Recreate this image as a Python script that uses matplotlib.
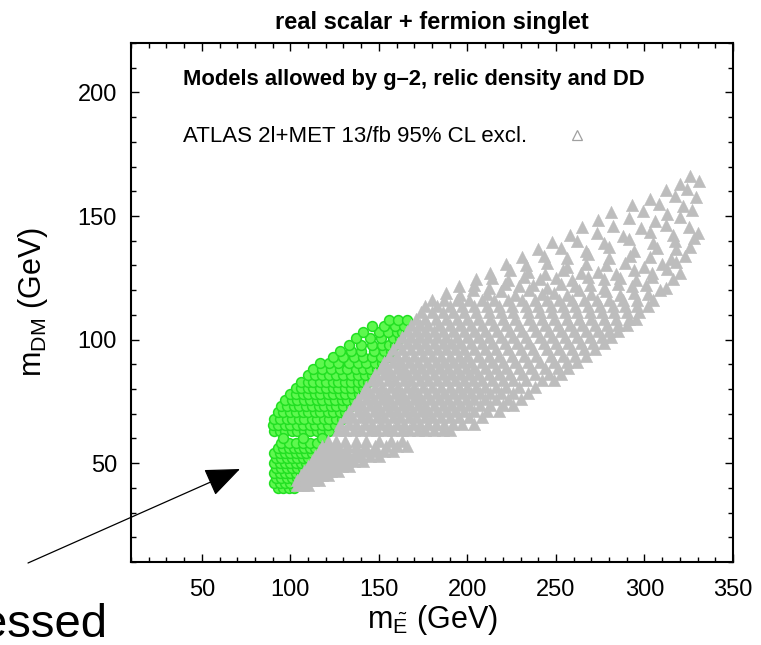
import matplotlib
matplotlib.use("Agg")
import matplotlib.pyplot as plt
from matplotlib.lines import Line2D

plt.rcParams['font.family'] = ['Liberation Sans', 'DejaVu Sans']
plt.rcParams['mathtext.fontset'] = 'custom'
plt.rcParams['mathtext.rm'] = 'Liberation Sans'
plt.rcParams['mathtext.it'] = 'Liberation Sans:italic'

# ---------------- data (m_E~ [GeV], m_DM [GeV]) ----------------
# allowed models (green), upper branch: rows of m_DM with the m_E values in that row
green_upper_mDM = [63, 65.5, 68, 70.5, 73, 75.5, 78, 80.5, 83, 85.5, 88, 90.5, 93, 95.5, 98, 100.5, 103, 105.5, 108]
green_upper_mE = [
    [91, 94, 97, 101, 104, 108, 111, 115, 118, 122],
    [90, 93, 97, 100, 104, 107, 111, 114, 118, 121, 125],
    [91, 94, 98, 101, 105, 108, 112, 115, 119, 122, 126, 129],
    [93, 96, 100, 103, 107, 110, 114, 117, 121, 124, 128, 131],
    [95, 98, 102, 105, 109, 112, 116, 119, 123, 126, 130, 134],
    [97, 101, 104, 108, 111, 115, 118, 122, 125, 129, 132, 136],
    [100, 103, 107, 110, 114, 117, 121, 124, 128, 131, 135, 139],
    [103, 106, 110, 113, 117, 120, 124, 127, 131, 134, 138, 141],
    [106, 110, 113, 117, 120, 124, 127, 131, 134, 138, 141, 144],
    [110, 114, 118, 122, 126, 130, 134, 138, 142, 146],
    [113, 118, 123, 128, 132, 137, 141, 145, 149],
    [117, 122, 127, 133, 138, 143, 148, 152],
    [124, 130, 136, 141, 146, 151, 155],
    [128, 134, 140, 147, 153, 157],
    [133, 140, 146, 152, 156, 159],
    [137, 145, 151, 158, 162],
    [141, 150, 155, 160, 163],
    [146, 153, 159, 164],
    [156, 161, 166],
]
# allowed models (green), lower branch (below m_h/2)
green_lower_mDM = [40, 42, 44, 46, 48, 50, 52, 54, 56, 58, 60]
green_lower_mE = [
    [93, 96, 99, 102],
    [91, 94, 97, 100, 103],
    [92, 95, 98, 101, 104],
    [91, 94, 97, 100, 103, 106],
    [92, 95, 98, 101, 104, 107],
    [91, 94, 97, 100, 103, 106, 109],
    [92, 95, 98, 101, 104, 107, 110],
    [91, 94, 97, 100, 103, 106, 109, 112],
    [93, 96, 99, 102, 105, 108, 111, 114],
    [95, 99, 103, 107, 111, 115],
    [96, 107, 118],
]

# ATLAS excluded (grey), lower branch
grey_lower_mDM = [41, 43, 45, 47, 49, 51, 53, 55, 57, 59]
grey_lower_mE = [
    [104, 107, 110],
    [104, 107, 110, 113, 116],
    [106, 109, 112, 115, 118, 121],
    [108, 111, 114, 117, 120, 123, 127],
    [110, 113, 116, 119, 122, 125, 129, 133],
    [112, 115, 118, 121, 124, 128, 132, 136, 141],
    [114, 117, 120, 124, 128, 132, 136, 140, 145, 150],
    [116, 120, 124, 128, 132, 137, 142, 147, 153, 158],
    [118, 122, 127, 132, 137, 142, 148, 154, 160, 166],
    [121, 126, 131, 137, 143, 150, 157, 163],
]
# ATLAS excluded (grey), main cloud
grey_core_mDM = [63.5, 66, 68.5, 71, 73.5, 76, 78.5, 81, 83.5, 86, 88.5, 91, 93.5, 96, 98.5,
                 101, 103.5, 106, 108.5, 111, 113.5, 116]
grey_core_mE = [
    [127, 131, 136, 140, 145, 149, 154, 158, 163, 167, 172, 176, 181, 186, 190],
    [128, 133, 137, 142, 146, 151, 155, 160, 164, 169, 173, 178, 182, 187, 192, 197, 204],
    [131, 135, 140, 144, 149, 153, 158, 162, 167, 171, 176, 180, 185, 190, 195, 201, 208],
    [133, 138, 142, 147, 151, 156, 160, 165, 169, 174, 178, 183, 188, 193, 198, 204, 211, 218],
    [136, 140, 145, 149, 154, 158, 163, 167, 172, 176, 181, 186, 191, 196, 201, 207, 213, 220, 226],
    [138, 143, 147, 152, 156, 161, 165, 170, 174, 179, 184, 189, 194, 199, 204, 210, 216, 223, 230],
    [141, 145, 150, 154, 159, 163, 168, 172, 177, 182, 187, 192, 197, 202, 207, 213, 219, 226, 234],
    [143, 148, 152, 157, 161, 166, 170, 175, 180, 185, 190, 195, 200, 205, 210, 216, 222, 229, 238],
    [146, 150, 155, 159, 164, 168, 173, 178, 183, 188, 193, 198, 203, 208, 214, 220, 226, 233, 242, 249],
    [148, 153, 157, 162, 166, 171, 176, 181, 186, 191, 196, 201, 206, 212, 218, 224, 231, 238, 246, 253],
    [151, 155, 160, 164, 169, 174, 179, 184, 189, 194, 199, 204, 210, 216, 222, 229, 236, 244, 251, 257],
    [153, 158, 162, 167, 172, 177, 182, 187, 192, 197, 202, 208, 214, 220, 227, 234, 241, 249, 256, 262],
    [156, 160, 165, 170, 175, 180, 185, 190, 195, 200, 206, 212, 218, 225, 232, 239, 247, 254, 261, 267],
    [158, 163, 168, 173, 178, 183, 188, 193, 198, 204, 210, 216, 223, 230, 237, 245, 252, 259, 266, 272],
    [161, 166, 171, 176, 181, 186, 191, 196, 202, 208, 214, 221, 228, 235, 243, 250, 257, 264, 271, 277],
    [163, 168, 173, 178, 183, 188, 194, 200, 206, 212, 219, 226, 233, 241, 248, 255, 262, 269, 276, 281],
    [166, 171, 176, 181, 186, 192, 198, 204, 210, 217, 224, 231, 239, 246, 253, 260, 267, 274, 280, 285],
    [168, 173, 178, 184, 190, 196, 202, 208, 215, 222, 229, 237, 244, 251, 258, 265, 272, 279, 285, 290],
    [171, 176, 182, 188, 194, 200, 206, 213, 220, 227, 235, 242, 249, 256, 263, 270, 277, 284, 291, 295],
    [174, 180, 186, 192, 198, 205, 212, 219, 226, 234, 241, 248, 255, 262, 269, 276, 283, 290, 297],
    [176, 183, 190, 197, 204, 211, 218, 225, 233, 240, 247, 254, 261, 268, 275, 282, 289, 296, 302],
    [180, 187, 194, 201, 208, 215, 223, 231, 238, 245, 252, 259, 266, 273, 280, 288, 296, 305],
]
# ATLAS excluded (grey), high-mass tail: (m_E, m_DM) pairs
grey_tail = [
    (188, 119), (196, 118), (203, 120), (211, 118.5), (219, 119.5), (227, 118), (235, 120), (242, 118.5),
    (249, 119), (256, 118), (263, 120), (270, 118.5), (278, 119.5), (286, 118), (294, 119), (302, 118.5), (309, 120),
    (195, 121.5), (204, 122), (212, 121), (221, 122.5), (229, 121.5), (237, 122), (245, 121), (253, 122.5),
    (261, 121.5), (269, 122), (277, 121), (285, 122.5), (293, 121.5), (301, 122), (312, 121),
    (205, 124.5), (214, 125), (223, 124), (232, 125.5), (241, 124.5), (250, 125), (259, 124), (268, 125.5),
    (277, 124.5), (286, 125), (295, 124), (304, 125.5), (316, 124.5),
    (213, 127), (224, 128), (234, 127.5), (244, 126.5), (254, 128), (264, 127), (274, 127.5), (284, 126.5),
    (294, 128), (304, 127), (313, 128.5), (320, 127),
    (222, 130.5), (233, 130), (245, 131), (256, 129.5), (267, 130.5), (278, 130), (289, 131), (300, 129.5),
    (310, 130.5), (318, 131.5),
    (231, 133.5), (243, 134), (256, 133), (268, 134.5), (280, 133), (292, 134), (303, 133.5), (315, 132.5), (323, 134),
    (240, 136.5), (253, 137), (267, 136), (280, 137.5), (294, 136), (307, 137), (318, 136.5), (326, 137.5),
    (248, 139.5), (262, 140), (277, 139), (291, 140.5), (305, 139), (317, 140), (328, 141),
    (258, 142.5), (273, 143), (288, 142), (303, 143.5), (316, 142.5), (330, 143),
    (265, 145.5), (282, 146), (298, 145), (312, 146.5), (325, 145.5),
    (274, 148.5), (291, 149), (306, 148), (320, 149.5),
    (281, 151.5), (299, 152), (313, 151), (327, 152.5),
    (293, 154.5), (308, 155), (322, 154),
    (303, 157), (317, 158), (329, 157.5),
    (312, 160.5), (324, 161),
    (320, 163), (331, 164),
    (326, 166),
]

x_ticks = [50, 100, 150, 200, 250, 300, 350]
y_ticks = [50, 100, 150, 200]
title = 'real scalar + fermion singlet'
key_title = 'Models allowed by g\u20132, relic density and DD'
key_label = 'ATLAS 2l+MET 13/fb 95% CL excl.'


def flatten(rows_y, rows_x):
    xs, ys = [], []
    for yv, row in zip(rows_y, rows_x):
        for xv in row:
            xs.append(xv)
            ys.append(yv)
    return xs, ys


gx1, gy1 = flatten(green_upper_mDM, green_upper_mE)
gx2, gy2 = flatten(green_lower_mDM, green_lower_mE)
green_x, green_y = gx1 + gx2, gy1 + gy2

rx1, ry1 = flatten(grey_lower_mDM, grey_lower_mE)
rx2, ry2 = flatten(grey_core_mDM, grey_core_mE)
grey_x = rx1 + rx2 + [p[0] for p in grey_tail]
grey_y = ry1 + ry2 + [p[1] for p in grey_tail]

# ---------------- figure ----------------
fig = plt.figure(figsize=(7.61, 6.45), dpi=100)
ax = fig.add_axes([0.1721, 0.1287, 0.7911, 0.8046])

grey = '#bdbdbd'
ax.scatter(green_x, green_y, s=50, marker='o', facecolor='#5ef84e', edgecolor='#22e022',
           linewidths=1.1, zorder=2)
ax.scatter(grey_x, grey_y, s=78, marker='^', facecolor=grey, edgecolor=grey,
           linewidths=0.4, zorder=3)

ax.set_xlim(10, 350)
ax.set_ylim(10, 220)
ax.set_xticks(x_ticks)
ax.set_yticks(y_ticks)
ax.set_xticks(range(10, 351, 10), minor=True)
ax.set_yticks(range(10, 221, 10), minor=True)
ax.tick_params(which='both', direction='in', top=True, right=True, width=1.0, labelsize=17)
ax.tick_params(which='major', length=6)
ax.tick_params(which='minor', length=3.5)
ax.tick_params(axis='x', pad=12)
ax.tick_params(axis='y', pad=10)
for sp in ax.spines.values():
    sp.set_linewidth(1.5)

ax.set_title(title, fontweight='bold', fontsize=17, pad=10)
ax.set_xlabel(r'm$_{\mathrm{\tilde{E}}}$ (GeV)', fontsize=22, labelpad=2)
ax.set_ylabel(r'm$_{\mathrm{DM}}$ (GeV)', fontsize=22, labelpad=20)

ax.text(0.0864, 0.929, key_title, transform=ax.transAxes, fontsize=15.8,
        fontweight='bold', ha='left', va='center')
handle = Line2D([], [], marker='^', linestyle='none', markerfacecolor='none',
                markeredgecolor='#a0a0a0', markersize=6.5, markeredgewidth=0.9)
ax.legend([handle], [key_label], loc='center left', bbox_to_anchor=(0.0864, 0.819),
          frameon=False, markerfirst=False, fontsize=16, handlelength=1.0,
          handletextpad=1.75, borderpad=0, borderaxespad=0)

# arrow from outside the plot pointing at the low-mass branch
ax.annotate('', xy=(240 / 761, 1 - 469 / 645), xycoords='figure fraction',
            xytext=(28 / 761, 1 - 563 / 645), textcoords='figure fraction',
            arrowprops=dict(arrowstyle='-|>,head_length=1.1,head_width=0.45',
                            mutation_scale=20, lw=0.9, color='black',
                            shrinkA=0, shrinkB=0), annotation_clip=False)
fig.text(107 / 761, 1 - 637 / 645, 'essed', ha='right', va='baseline', fontsize=34)

fig.savefig('out.png', dpi=100)
